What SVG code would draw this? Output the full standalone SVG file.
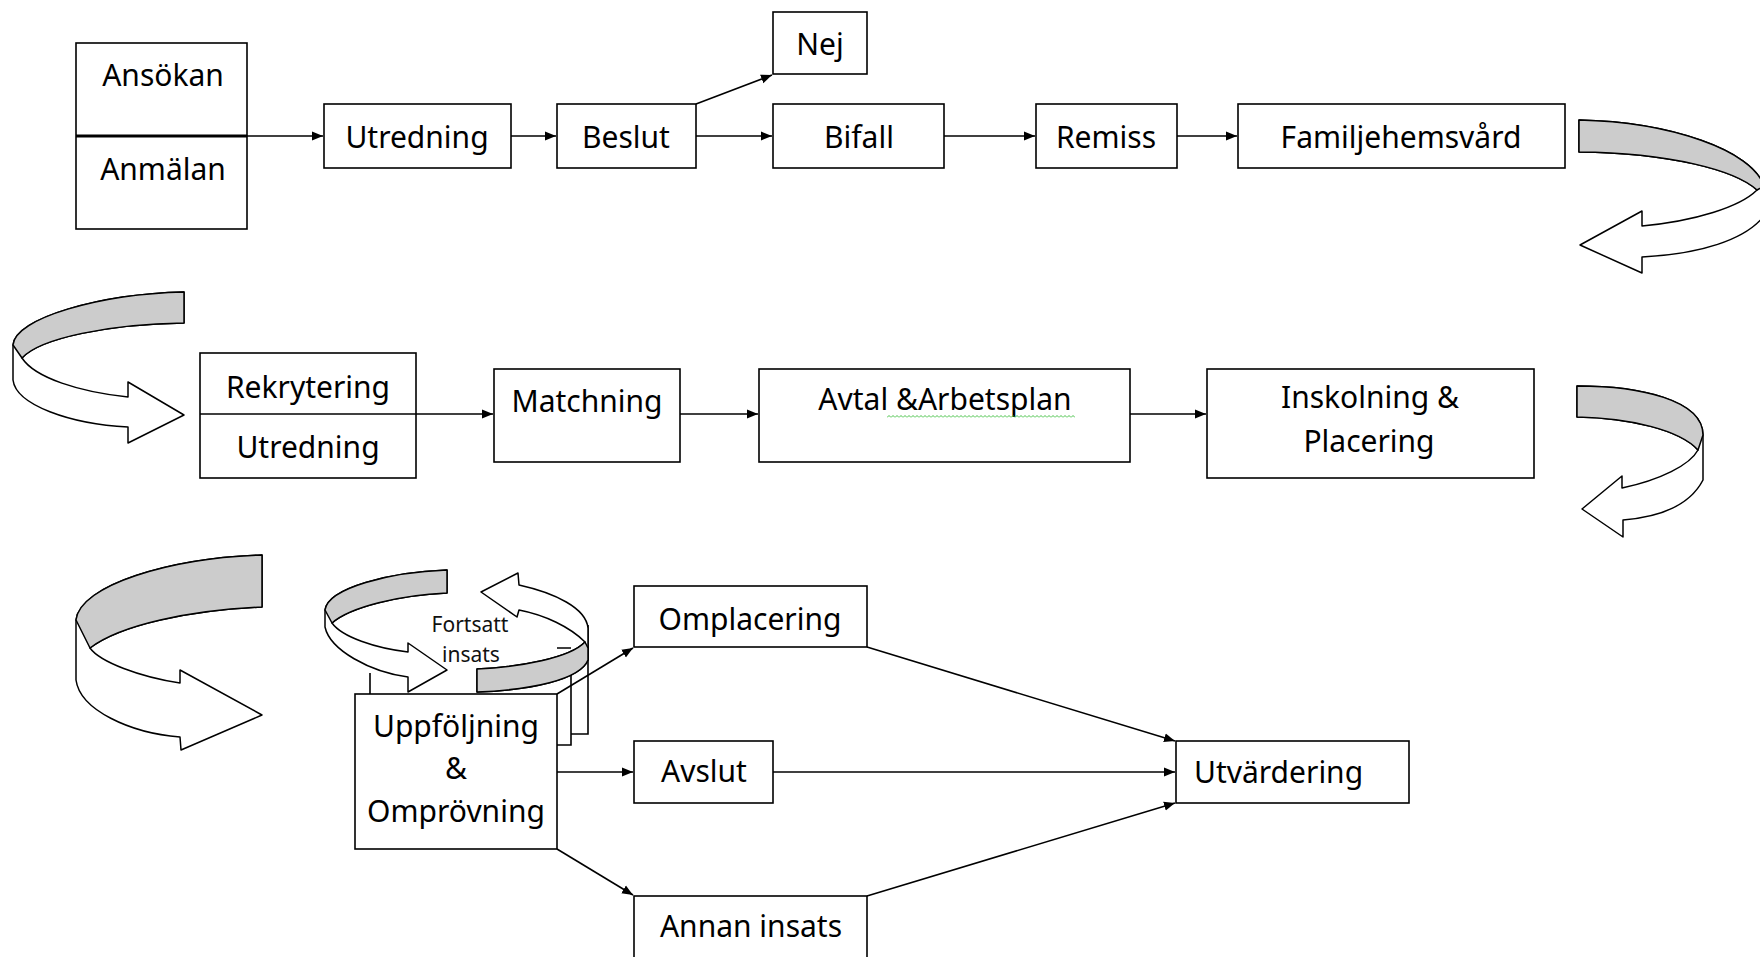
<svg xmlns="http://www.w3.org/2000/svg" width="1760" height="957" viewBox="0 0 1760 957">
<style>
.box{fill:#fff;stroke:#000;stroke-width:1.6}
.t{font-family:"Noto Sans","Liberation Sans",sans-serif;font-size:30px;fill:#000;text-anchor:middle}
.s{font-family:"Noto Sans","Liberation Sans",sans-serif;font-size:21px;fill:#111;text-anchor:middle}
.c{fill:none;stroke:#000;stroke-width:1.6;marker-end:url(#ah)}
.rib{fill:#fff;stroke:#000;stroke-width:1.5;stroke-linejoin:round}
.gray{fill:#cccccc;stroke:#000;stroke-width:1.5;stroke-linejoin:round}
.edge{fill:none;stroke:#000;stroke-width:1.6}
</style>
<defs>
<marker id="ah" markerWidth="12" markerHeight="10" refX="11" refY="5" orient="auto" markerUnits="userSpaceOnUse">
<path d="M0,0.5 L11,5 L0,9.5 Z" fill="#000"/>
</marker>
<pattern id="sq" width="4" height="3" patternUnits="userSpaceOnUse" x="887" y="415">
<path d="M0,2.5 L2,0.5 L4,2.5" fill="none" stroke="#33bb33" stroke-width="0.9"/>
</pattern>
</defs>
<rect width="1760" height="957" fill="#fff"/>

<!-- decorative ribbon arrows -->
<g id="ribbon-row1-right">
<path class="rib" d="M1579,120 C1670,122 1752,150 1764,186 L1764,216 C1745,240 1700,254 1642,257 L1642,273 L1580,245 L1642,211 L1642,226 C1695,221 1740,207 1757,190 C1735,170 1670,153 1579,152 Z"/>
<path class="gray" d="M1579,120 C1670,122 1752,150 1764,186 L1757,190 C1735,170 1670,153 1579,152 Z"/>
</g>
<g id="ribbon-row2-left">
<path class="rib" d="M184,292 C100,294 15,318 13,345 L13,380 C16,405 70,424 128,427 L128,443 L184,415 L128,382 L128,397 C80,392 35,378 22,358 C40,338 110,324 184,323 Z"/>
<path class="gray" d="M184,292 C100,294 15,318 13,345 L22,358 C40,338 110,324 184,323 Z"/>
</g>
<g id="ribbon-row2-right">
<path class="rib" d="M1577,386 C1640,386 1703,400 1703,435 L1703,480 C1690,505 1660,517 1623,520 L1623,537 L1582,509 L1622,476 L1622,488 C1660,480 1690,465 1698,450 C1680,430 1630,418 1577,417 Z"/>
<path class="gray" d="M1577,386 C1640,386 1703,400 1703,435 L1698,450 C1680,430 1630,418 1577,417 Z"/>
</g>
<g id="ribbon-row3-left">
<path class="rib" d="M262,555 C170,558 80,585 76,620 L76,680 C80,710 130,733 180,737 L181,750 L262,715 L180,670 L180,683 C140,677 100,662 90,648 C120,625 190,610 262,607 Z"/>
<path class="gray" d="M262,555 C170,558 80,585 76,620 L90,648 C120,625 190,610 262,607 Z"/>
</g>

<!-- nodes -->
<g id="n-ansokan">
<rect class="box" x="76" y="43" width="171" height="186"/>
<line x1="76" y1="136" x2="247" y2="136" stroke="#000" stroke-width="3"/>
<text class="t" x="163" y="86">Ansökan</text>
<text class="t" x="163" y="180">Anmälan</text>
</g>
<g id="n-utredning1"><rect class="box" x="324" y="104" width="187" height="64"/><text class="t" x="417" y="148">Utredning</text></g>
<g id="n-beslut"><rect class="box" x="557" y="104" width="139" height="64"/><text class="t" x="626" y="148">Beslut</text></g>
<g id="n-nej"><rect class="box" x="773" y="12" width="94" height="62"/><text class="t" x="820" y="55">Nej</text></g>
<g id="n-bifall"><rect class="box" x="773" y="104" width="171" height="64"/><text class="t" x="859" y="148">Bifall</text></g>
<g id="n-remiss"><rect class="box" x="1036" y="104" width="141" height="64"/><text class="t" x="1106" y="148">Remiss</text></g>
<g id="n-familjehemsvard"><rect class="box" x="1238" y="104" width="327" height="64"/><text class="t" x="1401" y="148">Familjehemsvård</text></g>

<g id="n-rekrytering">
<rect class="box" x="200" y="353" width="216" height="125"/>
<line x1="200" y1="414" x2="416" y2="414" stroke="#000" stroke-width="1.6"/>
<text class="t" x="308" y="398">Rekrytering</text>
<text class="t" x="308" y="458">Utredning</text>
</g>
<g id="n-matchning"><rect class="box" x="494" y="369" width="186" height="93"/><text class="t" x="587" y="412">Matchning</text></g>
<g id="n-avtal"><rect class="box" x="759" y="369" width="371" height="93"/><text class="t" x="945" y="410">Avtal &amp;Arbetsplan</text>
<rect x="887" y="415" width="188" height="3" fill="url(#sq)"/></g>
<g id="n-inskolning"><rect class="box" x="1207" y="369" width="327" height="109"/><text class="t" x="1370" y="408">Inskolning &amp;</text><text class="t" x="1369" y="452">Placering</text></g>

<g id="n-uppfoljning">
<path class="edge" d="M370,673 L370,694 M571,673 L571,745 L557,745 M588,625 L588,734 L571,734 M557,648 L571,648"/>
<rect class="box" x="355" y="694" width="202" height="155"/>
<text class="t" x="456" y="737">Uppföljning</text>
<text class="t" x="456" y="779">&amp;</text>
<text class="t" x="456" y="822">Omprövning</text>
</g>
<g id="ribbon-fortsatt">
<path class="rib" d="M447,570 C390,572 328,588 325,610 L325,627 C330,650 370,672 408,677 L408,692 L447,670 L408,643 L408,652 C375,648 342,637 332,623 C350,607 400,595 447,593 Z"/>
<path class="gray" d="M447,570 C390,572 328,588 325,610 L332,623 C350,607 400,595 447,593 Z"/>
<path class="rib" d="M519,585 C555,593 586,608 588,628 L588,660 C580,680 530,690 477,692 L477,669 C520,667 570,658 585,642 C570,627 545,615 519,610 L517,617 L481,592 L518,573 Z"/>
<path class="gray" d="M585,642 C570,658 520,667 477,669 L477,692 C530,690 580,680 588,660 L588,648 Z"/>
<text class="s" x="470" y="632">Fortsatt</text>
<text class="s" x="471" y="662">insats</text>
</g>
<g id="n-omplacering"><rect class="box" x="634" y="586" width="233" height="61"/><text class="t" x="750" y="630">Omplacering</text></g>
<g id="n-avslut"><rect class="box" x="634" y="741" width="139" height="62"/><text class="t" x="704" y="782">Avslut</text></g>
<g id="n-annan"><rect class="box" x="634" y="896" width="233" height="70"/><text class="t" x="751" y="937">Annan insats</text></g>
<g id="n-utvardering"><rect class="box" x="1176" y="741" width="233" height="62"/><text class="t" x="1194" y="783" style="text-anchor:start">Utvärdering</text></g>

<!-- connectors -->
<g id="connectors">
<line class="c" x1="247" y1="136" x2="323" y2="136"/>
<line class="c" x1="511" y1="136" x2="556" y2="136"/>
<line class="c" x1="696" y1="136" x2="772" y2="136"/>
<line class="c" x1="696" y1="104" x2="772" y2="75"/>
<line class="c" x1="944" y1="136" x2="1035" y2="136"/>
<line class="c" x1="1177" y1="136" x2="1237" y2="136"/>
<line class="c" x1="416" y1="414" x2="493" y2="414"/>
<line class="c" x1="680" y1="414" x2="758" y2="414"/>
<line class="c" x1="1130" y1="414" x2="1206" y2="414"/>
<line class="c" x1="557" y1="694" x2="633" y2="648"/>
<line class="c" x1="557" y1="772" x2="633" y2="772"/>
<line class="c" x1="557" y1="849" x2="633" y2="895"/>
<line class="c" x1="867" y1="647" x2="1175" y2="741"/>
<line class="c" x1="773" y1="772" x2="1175" y2="772"/>
<line class="c" x1="867" y1="896" x2="1175" y2="803"/>
</g>
</svg>
